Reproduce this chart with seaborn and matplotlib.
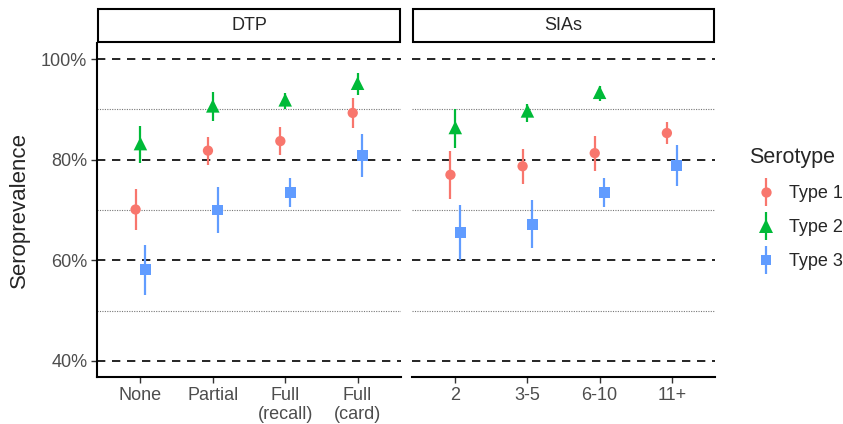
import numpy as np
import pandas as pd
import matplotlib
matplotlib.use("Agg")
import matplotlib.pyplot as plt
from matplotlib.lines import Line2D
from matplotlib.patches import Rectangle
import seaborn as sns

# categories per facet
dtp_groups = ["None", "Partial", "Full\n(recall)", "Full\n(card)"]
sia_groups = ["2", "3-5", "6-10", "11+"]
serotypes = ["Type 1", "Type 2", "Type 3"]

# DTP panel (estimate, lower, upper), in %
dtp_type1 = [70.1, 81.8, 83.7, 89.3]
dtp_type1_lo = [66.1, 78.9, 81.0, 86.4]
dtp_type1_hi = [74.2, 84.6, 86.5, 92.3]
dtp_type2 = [83.2, 90.7, 91.9, 95.2]
dtp_type2_lo = [79.3, 87.6, 90.1, 92.9]
dtp_type2_hi = [86.7, 93.5, 93.2, 97.2]
dtp_type3 = [58.2, 70.0, 73.5, 80.8]
dtp_type3_lo = [53.1, 65.4, 70.6, 76.5]
dtp_type3_hi = [63.1, 74.6, 76.4, 85.1]

# SIAs panel
sia_type1 = [77.0, 78.7, 81.3, 85.3]
sia_type1_lo = [72.2, 75.2, 77.7, 83.2]
sia_type1_hi = [81.8, 82.1, 84.8, 87.4]
sia_type2 = [86.4, 89.7, 93.4, np.nan]
sia_type2_lo = [82.3, 87.4, 91.7, np.nan]
sia_type2_hi = [90.1, 91.0, 94.7, np.nan]
sia_type3 = [65.6, 67.2, 73.4, 78.9]
sia_type3_lo = [60.1, 62.5, 70.5, 74.8]
sia_type3_hi = [70.9, 71.9, 76.3, 82.9]

colors = {"Type 1": "#F8766D", "Type 2": "#00BA38", "Type 3": "#619CFF"}
markers = {"Type 1": "o", "Type 2": "^", "Type 3": "s"}
sizes = {"Type 1": 55, "Type 2": 95, "Type 3": 62}
dodge = {"Type 1": -0.067, "Type 2": 0.0, "Type 3": 0.067}


def make_df(vals, los, his):
    rows = []
    for st, v, lo, hi in zip(serotypes, vals, los, his):
        for i in range(len(v)):
            rows.append({"Serotype": st, "g": i, "x": i + dodge[st],
                         "est": v[i], "lo": lo[i], "hi": hi[i]})
    return pd.DataFrame(rows)


dtp = make_df([dtp_type1, dtp_type2, dtp_type3],
              [dtp_type1_lo, dtp_type2_lo, dtp_type3_lo],
              [dtp_type1_hi, dtp_type2_hi, dtp_type3_hi])
sia = make_df([sia_type1, sia_type2, sia_type3],
              [sia_type1_lo, sia_type2_lo, sia_type3_lo],
              [sia_type1_hi, sia_type2_hi, sia_type3_hi])

sns.set_style("white")
plt.rcParams["font.family"] = ["Liberation Sans", "DejaVu Sans"]

fig = plt.figure(figsize=(8.43, 4.24), dpi=100)
W, H = 843, 424


def px_axes(x0, y0, x1, y1):
    return fig.add_axes([x0 / W, 1 - y1 / H, (x1 - x0) / W, (y1 - y0) / H])


panels = [(dtp, dtp_groups, "DTP", 97, 401), (sia, sia_groups, "SIAs", 412, 715)]
for k, (df, groups, title, x0, x1) in enumerate(panels):
    ax = px_axes(x0, 43, x1, 377)
    for y in [50, 70, 90]:
        ax.axhline(y, color="#777777", lw=0.8, ls=(0, (1, 1.2)), zorder=0)
    for y in [40, 60, 80, 100]:
        ax.axhline(y, color="black", lw=1.2, ls=(0, (5, 4)), zorder=0)
    d = df.dropna()
    for st in serotypes:
        s = d[d["Serotype"] == st]
        ax.vlines(s["x"], s["lo"], s["hi"], color=colors[st], lw=1.6, zorder=2)
    sns.scatterplot(data=d, x="x", y="est", hue="Serotype", style="Serotype",
                    size="Serotype", palette=colors, markers=markers, sizes=sizes,
                    linewidth=0, legend=False, ax=ax, zorder=3)
    ax.set_xlim(-0.6, 3.6)
    ax.set_ylim(36.8, 103.2)
    ax.set_xticks(range(len(groups)))
    ax.set_xticklabels(groups, fontsize=13, color="#4D4D4D", linespacing=1.2)
    ax.set_xlabel("")
    ax.set_yticks([40, 60, 80, 100])
    ax.tick_params(axis="both", length=4, width=1, color="#333333", pad=3, bottom=True, left=(k == 0))
    for side in ["top", "right"]:
        ax.spines[side].set_visible(False)
    ax.spines["bottom"].set_linewidth(1.5)
    ax.spines["bottom"].set_color("black")
    if k == 0:
        ax.set_yticklabels(["40%", "60%", "80%", "100%"], fontsize=13, color="#4D4D4D")
        ax.set_ylabel("Seroprevalence", fontsize=16, labelpad=8)
        ax.spines["left"].set_linewidth(1.5)
        ax.spines["left"].set_color("black")
    else:
        ax.set_yticklabels([])
        ax.set_ylabel("")
        ax.spines["left"].set_visible(False)

    sax = px_axes(x0 + 1, 9, x1 - 1, 42)
    sax.set_axis_off()
    sax.add_patch(Rectangle((0, 0), 1, 1, transform=sax.transAxes, fill=False,
                            edgecolor="black", lw=1.5, clip_on=False))
    sax.text(0.5, 0.5, title, ha="center", va="center", fontsize=13,
             transform=sax.transAxes)

handles = []
for st in serotypes:
    bar = Line2D([], [], marker="|", markersize=20, mew=1.6, color=colors[st], ls="none")
    pt = Line2D([], [], marker=markers[st], markersize=np.sqrt(sizes[st]),
                color=colors[st], mew=0, ls="none")
    handles.append((bar, pt))
fig.legend(handles, serotypes, title="Serotype", loc="upper left",
           bbox_to_anchor=(738 / W, 1 - 136 / H), frameon=False, fontsize=13,
           title_fontsize=15.5, labelspacing=0.95, handlelength=1.9,
           handletextpad=0.3, alignment="left", borderaxespad=0.2)

fig.savefig("out.png", dpi=100)
